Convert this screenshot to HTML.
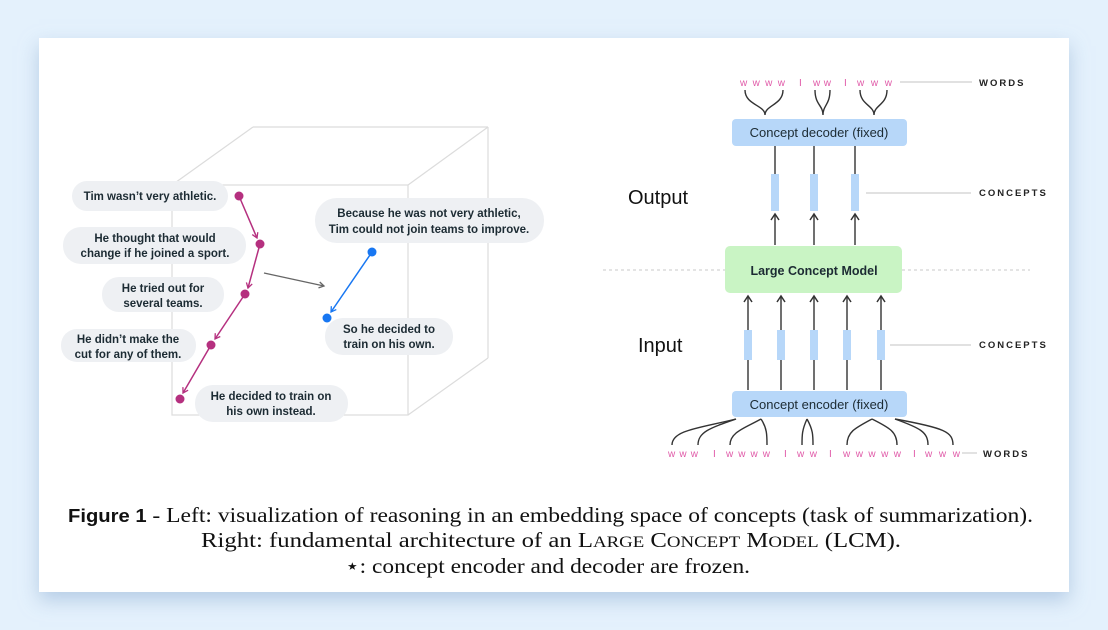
<!DOCTYPE html>
<html><head><meta charset="utf-8"><style>
html,body{margin:0;padding:0;width:1108px;height:630px;overflow:hidden;background:#e4f1fc;}
.card{position:absolute;left:39px;top:38px;width:1030px;height:554px;background:#fff;box-shadow:0 8px 18px rgba(150,180,215,0.6);}
svg{position:absolute;left:0;top:0;}
</style></head><body>
<div class="card"></div>
<svg width="1108" height="630" viewBox="0 0 1108 630" xmlns="http://www.w3.org/2000/svg">
<defs>
<marker id="am" markerWidth="8" markerHeight="8" refX="6" refY="4" orient="auto" markerUnits="userSpaceOnUse"><path d="M1,1 L6,4 L1,7" fill="none" stroke="#b5307f" stroke-width="1.3"/></marker>
<marker id="ab" markerWidth="8" markerHeight="8" refX="6" refY="4" orient="auto" markerUnits="userSpaceOnUse"><path d="M1,1 L6,4 L1,7" fill="none" stroke="#1877f2" stroke-width="1.3"/></marker>
<marker id="ag" markerWidth="8" markerHeight="8" refX="6" refY="4" orient="auto" markerUnits="userSpaceOnUse"><path d="M1,1 L6,4 L1,7" fill="none" stroke="#666" stroke-width="1.3"/></marker>
<marker id="ak" markerWidth="10" markerHeight="10" refX="7" refY="5" orient="auto" markerUnits="userSpaceOnUse"><path d="M1,1 L7,5 L1,9" fill="none" stroke="#333" stroke-width="1.5"/></marker>
</defs>
<g stroke="#dcdcdc" stroke-width="1.2" fill="none">
<rect x="172" y="185" width="236" height="230"/>
<line x1="253" y1="127" x2="488" y2="127"/>
<line x1="488" y1="127" x2="488" y2="358"/>
<line x1="172" y1="185" x2="253" y2="127"/>
<line x1="408" y1="185" x2="488" y2="127"/>
<line x1="408" y1="415" x2="488" y2="358"/>
</g>
<g fill="#eef0f3">
<rect x="72" y="181" width="156" height="30" rx="15"/>
<rect x="63" y="227" width="183" height="37" rx="18"/>
<rect x="102" y="277" width="122" height="35" rx="17"/>
<rect x="61" y="329" width="135" height="33" rx="16"/>
<rect x="195" y="385" width="153" height="37" rx="18"/>
<rect x="315" y="198" width="229" height="45" rx="22"/>
<rect x="325" y="318" width="128" height="37" rx="18"/>
</g>
<g font-family="Liberation Sans, sans-serif" font-size="11.5" fill="#1c2b33" text-anchor="middle" font-weight="bold">
<text x="150" y="200">Tim wasn’t very athletic.</text>
<text x="155" y="242">He thought that would</text>
<text x="155" y="257">change if he joined a sport.</text>
<text x="163" y="292">He tried out for</text>
<text x="163" y="307">several teams.</text>
<text x="128" y="343">He didn’t make the</text>
<text x="128" y="358">cut for any of them.</text>
<text x="271" y="400">He decided to train on</text>
<text x="271" y="415">his own instead.</text>
<text x="429" y="217">Because he was not very athletic,</text>
<text x="429" y="233">Tim could not join teams to improve.</text>
<text x="389" y="333">So he decided to</text>
<text x="389" y="348">train on his own.</text>
</g>
<g stroke="#b5307f" stroke-width="1.5">
<line x1="239" y1="196" x2="257" y2="238" marker-end="url(#am)"/>
<line x1="260" y1="244" x2="248" y2="288" marker-end="url(#am)"/>
<line x1="245" y1="294" x2="215" y2="339" marker-end="url(#am)"/>
<line x1="211" y1="345" x2="183" y2="393" marker-end="url(#am)"/>
</g>
<g fill="#b5307f"><circle cx="239" cy="196" r="4.5"/><circle cx="260" cy="244" r="4.5"/><circle cx="245" cy="294" r="4.5"/><circle cx="211" cy="345" r="4.5"/><circle cx="180" cy="399" r="4.5"/></g>
<line x1="372" y1="252" x2="331" y2="312" stroke="#1877f2" stroke-width="1.5" marker-end="url(#ab)"/>
<g fill="#1877f2"><circle cx="372" cy="252" r="4.5"/><circle cx="327" cy="318" r="4.5"/></g>
<line x1="264" y1="273" x2="324" y2="286" stroke="#666" stroke-width="1.3" marker-end="url(#ag)"/>

<g font-family="Liberation Sans, sans-serif" font-size="10" fill="#e05aa8">
<text x="740" y="86" textLength="45" lengthAdjust="spacing">wwww</text><text x="799" y="86">I</text>
<text x="813" y="86" textLength="18" lengthAdjust="spacing">ww</text><text x="844" y="86">I</text>
<text x="857" y="86" textLength="35" lengthAdjust="spacing">www</text>
<text x="668" y="457" textLength="30" lengthAdjust="spacing">www</text><text x="713" y="457">I</text>
<text x="726" y="457" textLength="44" lengthAdjust="spacing">wwww</text><text x="784" y="457">I</text>
<text x="797" y="457" textLength="20" lengthAdjust="spacing">ww</text><text x="829" y="457">I</text>
<text x="843" y="457" textLength="58" lengthAdjust="spacing">wwwww</text><text x="913" y="457">I</text>
<text x="925" y="457" textLength="35" lengthAdjust="spacing">www</text>
</g>
<g font-family="Liberation Sans, sans-serif" font-size="9.5" font-weight="bold" fill="#222" letter-spacing="2">
<text x="979" y="86">WORDS</text>
<text x="979" y="196">CONCEPTS</text>
<text x="979" y="348">CONCEPTS</text>
<text x="983" y="457">WORDS</text>
</g>
<g stroke="#cfcfcf" stroke-width="1.2">
<line x1="900" y1="82" x2="972" y2="82"/>
<line x1="866" y1="193" x2="971" y2="193"/>
<line x1="890" y1="345" x2="971" y2="345"/>
<line x1="962" y1="453" x2="977" y2="453"/>
</g>
<g stroke="#c8c8c8" stroke-dasharray="3,3" stroke-width="1">
<line x1="603" y1="270" x2="725" y2="270"/><line x1="902" y1="270" x2="1030" y2="270"/>
</g>
<g stroke="#333" stroke-width="1.4" fill="none">
<path d="M745,90 C745,105 765,105 765,115 C765,105 783,105 783,90"/>
<path d="M815,90 C815,105 823,105 823,115 C823,105 830,105 830,90"/>
<path d="M860,90 C860,105 874,105 874,115 C874,105 887,105 887,90"/>
<path d="M736,419 C700,428 672,430 672,445"/>
<path d="M736,419 C710,428 698,432 698,445"/>
<path d="M761,419 C745,428 730,432 730,445"/>
<path d="M761,419 C767,428 767,435 767,445"/>
<path d="M807,419 C802,430 802,435 802,445"/>
<path d="M807,419 C813,430 813,435 813,445"/>
<path d="M872,419 C855,428 847,432 847,445"/>
<path d="M872,419 C890,428 897,432 897,445"/>
<path d="M895,419 C920,428 928,432 928,445"/>
<path d="M895,419 C945,428 953,432 953,445"/>
</g>
<rect x="732" y="119" width="175" height="27" rx="4" fill="#b7d7f9"/>
<rect x="725" y="246" width="177" height="47" rx="5" fill="#c9f4c4"/>
<rect x="732" y="391" width="175" height="26" rx="4" fill="#b7d7f9"/>
<g font-family="Liberation Sans, sans-serif" font-size="13" fill="#1c2b33" text-anchor="middle">
<text x="819" y="137">Concept decoder (fixed)</text>
<text x="814" y="275" font-weight="bold" font-size="12.5">Large Concept Model</text>
<text x="819" y="409">Concept encoder (fixed)</text>
</g>
<g font-family="Liberation Sans, sans-serif" font-size="20" fill="#111">
<text x="628" y="204">Output</text>
<text x="638" y="352">Input</text>
</g>
<g stroke="#333" stroke-width="1.4">
<line x1="775" y1="146" x2="775" y2="174"/><line x1="814" y1="146" x2="814" y2="174"/><line x1="855" y1="146" x2="855" y2="174"/>
<line x1="775" y1="245" x2="775" y2="214" marker-end="url(#ak)"/>
<line x1="814" y1="245" x2="814" y2="214" marker-end="url(#ak)"/>
<line x1="855" y1="245" x2="855" y2="214" marker-end="url(#ak)"/>
<line x1="748" y1="390" x2="748" y2="296" marker-end="url(#ak)"/>
<line x1="781" y1="390" x2="781" y2="296" marker-end="url(#ak)"/>
<line x1="814" y1="390" x2="814" y2="296" marker-end="url(#ak)"/>
<line x1="847" y1="390" x2="847" y2="296" marker-end="url(#ak)"/>
<line x1="881" y1="390" x2="881" y2="296" marker-end="url(#ak)"/>
</g>
<g fill="#b7d7f9">
<rect x="771" y="174" width="8" height="37"/><rect x="810" y="174" width="8" height="37"/><rect x="851" y="174" width="8" height="37"/>
<rect x="744" y="330" width="8" height="30"/><rect x="777" y="330" width="8" height="30"/><rect x="810" y="330" width="8" height="30"/><rect x="843" y="330" width="8" height="30"/><rect x="877" y="330" width="8" height="30"/>
</g>
<g font-family="Liberation Serif, serif" font-size="21" fill="#111">
<text x="68" y="522" textLength="965" lengthAdjust="spacingAndGlyphs"><tspan font-family="Liberation Sans, sans-serif" font-weight="bold" font-size="18">Figure 1</tspan> - Left: visualization of reasoning in an embedding space of concepts (task of summarization).</text>
<text x="201" y="547" textLength="700" lengthAdjust="spacingAndGlyphs">Right: fundamental architecture of an L<tspan font-size="16">ARGE</tspan> C<tspan font-size="16">ONCEPT</tspan> M<tspan font-size="16">ODEL</tspan> (LCM).</text>
<text x="345" y="573" textLength="405" lengthAdjust="spacingAndGlyphs">⋆: concept encoder and decoder are frozen.</text>
</g>
</svg>
</body></html>
